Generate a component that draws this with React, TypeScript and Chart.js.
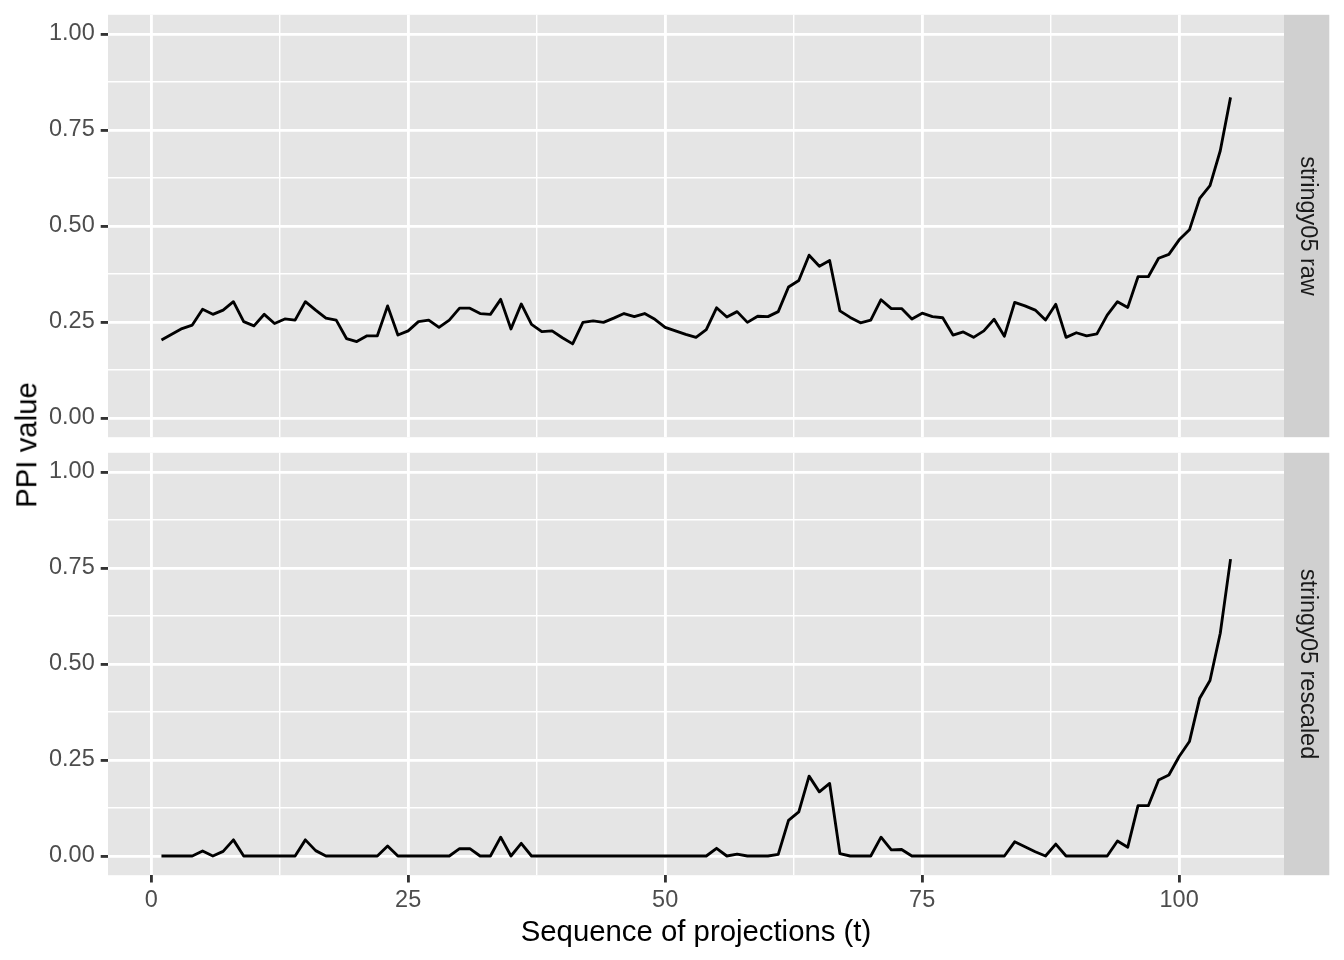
import React, { useEffect, useRef } from "react";
import { Chart, registerables } from "chart.js";

Chart.register(...registerables);

// ---- data ----
const tValues = [
  1, 2, 3, 4, 5, 6, 7, 8, 9, 10, 11, 12, 13, 14, 15, 16, 17, 18, 19, 20,
  21, 22, 23, 24, 25, 26, 27, 28, 29, 30, 31, 32, 33, 34, 35, 36, 37, 38, 39, 40,
  41, 42, 43, 44, 45, 46, 47, 48, 49, 50, 51, 52, 53, 54, 55, 56, 57, 58, 59, 60,
  61, 62, 63, 64, 65, 66, 67, 68, 69, 70, 71, 72, 73, 74, 75, 76, 77, 78, 79, 80,
  81, 82, 83, 84, 85, 86, 87, 88, 89, 90, 91, 92, 93, 94, 95, 96, 97, 98, 99, 100,
  101, 102, 103, 104, 105,
];

const rawValues = [
  0.203, 0.218, 0.233, 0.242, 0.283, 0.270, 0.281, 0.303, 0.251, 0.240,
  0.270, 0.246, 0.258, 0.255, 0.303, 0.281, 0.260, 0.255, 0.207, 0.199,
  0.214, 0.214, 0.292, 0.216, 0.227, 0.251, 0.255, 0.236, 0.255, 0.286,
  0.286, 0.272, 0.270, 0.309, 0.232, 0.297, 0.244, 0.225, 0.227, 0.209,
  0.193, 0.249, 0.253, 0.249, 0.260, 0.272, 0.264, 0.272, 0.257, 0.236,
  0.227, 0.218, 0.210, 0.230, 0.287, 0.263, 0.277, 0.249, 0.265, 0.264,
  0.277, 0.341, 0.358, 0.424, 0.395, 0.410, 0.279, 0.262, 0.248, 0.255,
  0.308, 0.285, 0.285, 0.258, 0.273, 0.264, 0.261, 0.216, 0.224, 0.210,
  0.227, 0.257, 0.213, 0.301, 0.292, 0.281, 0.255, 0.296, 0.210, 0.222,
  0.214, 0.219, 0.268, 0.303, 0.288, 0.368, 0.368, 0.416, 0.426, 0.464,
  0.490, 0.572, 0.605, 0.696, 0.835,
];

const rescaledValues = [
  0, 0, 0, 0, 0.013, 0, 0.012, 0.042, 0, 0,
  0, 0, 0, 0, 0.042, 0.014, 0, 0, 0, 0,
  0, 0, 0.026, 0, 0, 0, 0, 0, 0, 0.019,
  0.019, 0, 0, 0.049, 0, 0.033, 0, 0, 0, 0,
  0, 0, 0, 0, 0, 0, 0, 0, 0, 0,
  0, 0, 0, 0, 0.020, 0, 0.005, 0, 0, 0,
  0.004, 0.093, 0.115, 0.208, 0.167, 0.189, 0.006, 0, 0, 0,
  0.049, 0.016, 0.017, 0, 0, 0, 0, 0, 0, 0,
  0, 0, 0, 0.037, 0.024, 0.011, 0, 0.031, 0, 0,
  0, 0, 0, 0.039, 0.023, 0.131, 0.131, 0.198, 0.211, 0.259,
  0.298, 0.411, 0.457, 0.580, 0.773,
];

const facetLabels = ["stringy05 raw", "stringy05 rescaled"];

const xMajorTicks = [0, 25, 50, 75, 100];
const xTickLabels = ["0", "25", "50", "75", "100"];
const xMinorTicks = [12.5, 37.5, 62.5, 87.5];

const yMajorTicks = [0, 0.25, 0.5, 0.75, 1];
const yTickLabels = ["0.00", "0.25", "0.50", "0.75", "1.00"];
const yMinorTicks = [0.125, 0.375, 0.625, 0.875];

const xTitle = "Sequence of projections (t)";
const yTitle = "PPI value";

// ---- style ----
const FONT = '"Liberation Sans", Arial, Helvetica, sans-serif';
const PANEL_BG = "#E5E5E5";
const STRIP_BG = "#D0D0D0";
const TICK_FS = 23.47;
const TITLE_FS = 29.33;
const MAJOR_W = 2.85;
const MINOR_W = 1.42;

const X_MIN = -4.2;
const X_MAX = 110.2;
const Y_MIN = -0.05;
const Y_MAX = 1.05;

const PANEL_LEFT = 108;
const PANEL_RIGHT = 1284;
const STRIP_W = 45.3;

function isMajor(list: number[], v: number) {
  return list.some((m) => Math.abs(m - v) < 1e-9);
}

function makeConfig(
  values: number[],
  stripLabel: string,
  showX: boolean,
  padTop: number,
  xAxisH: number
): any {
  const panelPlugin = {
    id: "panelBg" + (showX ? "b" : "t"),
    beforeDraw(chart: any) {
      const { ctx, chartArea: a } = chart;
      ctx.save();
      ctx.fillStyle = PANEL_BG;
      ctx.fillRect(a.left, a.top, a.right - a.left, a.bottom - a.top);
      ctx.restore();
    },
    afterDraw(chart: any) {
      const { ctx, chartArea: a } = chart;
      ctx.save();
      ctx.fillStyle = STRIP_BG;
      ctx.fillRect(a.right, a.top, STRIP_W, a.bottom - a.top);
      ctx.translate(a.right + STRIP_W / 2 + 0.8, (a.top + a.bottom) / 2);
      ctx.rotate(Math.PI / 2);
      ctx.fillStyle = "#1A1A1A";
      ctx.font = `${TICK_FS}px ${FONT}`;
      ctx.textAlign = "center";
      ctx.textBaseline = "middle";
      ctx.fillText(stripLabel, 0, 0);
      ctx.restore();
    },
  };

  const xAll = [...xMajorTicks, ...xMinorTicks].sort((a, b) => a - b);
  const yAll = [...yMajorTicks, ...yMinorTicks].sort((a, b) => a - b);

  return {
    type: "line",
    data: {
      datasets: [
        {
          data: tValues.map((t, i) => ({ x: t, y: values[i] })),
          borderColor: "#000000",
          borderWidth: MAJOR_W,
          pointRadius: 0,
          tension: 0,
          fill: false,
          borderJoinStyle: "round",
        },
      ],
    },
    options: {
      responsive: false,
      maintainAspectRatio: false,
      animation: false,
      events: [],
      layout: {
        padding: { top: padTop, right: 1344 - PANEL_RIGHT, left: 0, bottom: 0 },
      },
      plugins: {
        legend: { display: false },
        tooltip: { enabled: false },
      },
      scales: {
        x: {
          type: "linear",
          min: X_MIN,
          max: X_MAX,
          afterBuildTicks: (s: any) => {
            s.ticks = xAll.map((v) => ({ value: v }));
          },
          afterFit: (s: any) => {
            s.height = xAxisH;
            s.paddingLeft = 0;
            s.paddingRight = 0;
            s.paddingTop = 0;
            s.paddingBottom = 0;
          },
          border: { display: false },
          grid: {
            color: "#FFFFFF",
            lineWidth: (ctx: any) =>
              ctx.tick && isMajor(xMajorTicks, ctx.tick.value) ? MAJOR_W : MINOR_W,
            drawTicks: showX,
            tickLength: 7.3,
            tickWidth: MAJOR_W,
            tickColor: (ctx: any) =>
              ctx.tick && isMajor(xMajorTicks, ctx.tick.value) ? "#333333" : "rgba(0,0,0,0)",
          },
          ticks: {
            display: showX,
            autoSkip: false,
            maxRotation: 0,
            minRotation: 0,
            padding: 4,
            color: "#4D4D4D",
            font: { family: FONT, size: TICK_FS },
            callback: (v: any) => {
              const idx = xMajorTicks.findIndex((m) => Math.abs(m - v) < 1e-9);
              return idx >= 0 ? xTickLabels[idx] : "";
            },
          },
          title: {
            display: showX,
            text: xTitle,
            color: "#000000",
            font: { family: FONT, size: TITLE_FS },
            padding: { top: 0, bottom: 9.5 },
          },
        },
        y: {
          type: "linear",
          min: Y_MIN,
          max: Y_MAX,
          afterBuildTicks: (s: any) => {
            s.ticks = yAll.map((v) => ({ value: v }));
          },
          afterFit: (s: any) => {
            s.width = PANEL_LEFT;
            s.paddingTop = 0;
            s.paddingBottom = 0;
            s.paddingLeft = 0;
            s.paddingRight = 0;
          },
          border: { display: false },
          grid: {
            color: "#FFFFFF",
            lineWidth: (ctx: any) =>
              ctx.tick && isMajor(yMajorTicks, ctx.tick.value) ? MAJOR_W : MINOR_W,
            drawTicks: true,
            tickLength: 7.3,
            tickWidth: MAJOR_W,
            tickColor: (ctx: any) =>
              ctx.tick && isMajor(yMajorTicks, ctx.tick.value) ? "#333333" : "rgba(0,0,0,0)",
          },
          ticks: {
            autoSkip: false,
            padding: 6,
            color: "#4D4D4D",
            font: { family: FONT, size: TICK_FS },
            callback: (v: any) => {
              const idx = yMajorTicks.findIndex((m) => Math.abs(m - v) < 1e-9);
              return idx >= 0 ? yTickLabels[idx] : "";
            },
          },
        },
      },
    },
    plugins: [panelPlugin],
  };
}

const TOP_H = 446;
const BOT_H = 960 - TOP_H;

export default function App() {
  const topRef = useRef<HTMLCanvasElement>(null);
  const botRef = useRef<HTMLCanvasElement>(null);

  useEffect(() => {
    const c1 = new Chart(
      topRef.current as HTMLCanvasElement,
      makeConfig(rawValues, facetLabels[0], false, 14.8, TOP_H - 437.2)
    );
    const c2 = new Chart(
      botRef.current as HTMLCanvasElement,
      makeConfig(rescaledValues, facetLabels[1], true, 452.8 - TOP_H, 960 - 875.2)
    );
    return () => {
      c1.destroy();
      c2.destroy();
    };
  }, []);

  return (
    <div
      style={{
        position: "absolute",
        left: 0,
        top: 0,
        width: 1344,
        height: 960,
        background: "#FFFFFF",
        overflow: "hidden",
      }}
    >
      <canvas
        ref={topRef}
        width={1344}
        height={TOP_H}
        style={{ position: "absolute", left: 0, top: 0, width: 1344, height: TOP_H }}
      />
      <canvas
        ref={botRef}
        width={1344}
        height={BOT_H}
        style={{ position: "absolute", left: 0, top: TOP_H, width: 1344, height: BOT_H }}
      />
      <div
        style={{
          position: "absolute",
          left: 26,
          top: 445,
          transform: "translate(-50%, -50%) rotate(-90deg)",
          fontFamily: FONT,
          fontSize: TITLE_FS,
          lineHeight: `${TITLE_FS}px`,
          color: "#000000",
          whiteSpace: "nowrap",
        }}
      >
        {yTitle}
      </div>
    </div>
  );
}
